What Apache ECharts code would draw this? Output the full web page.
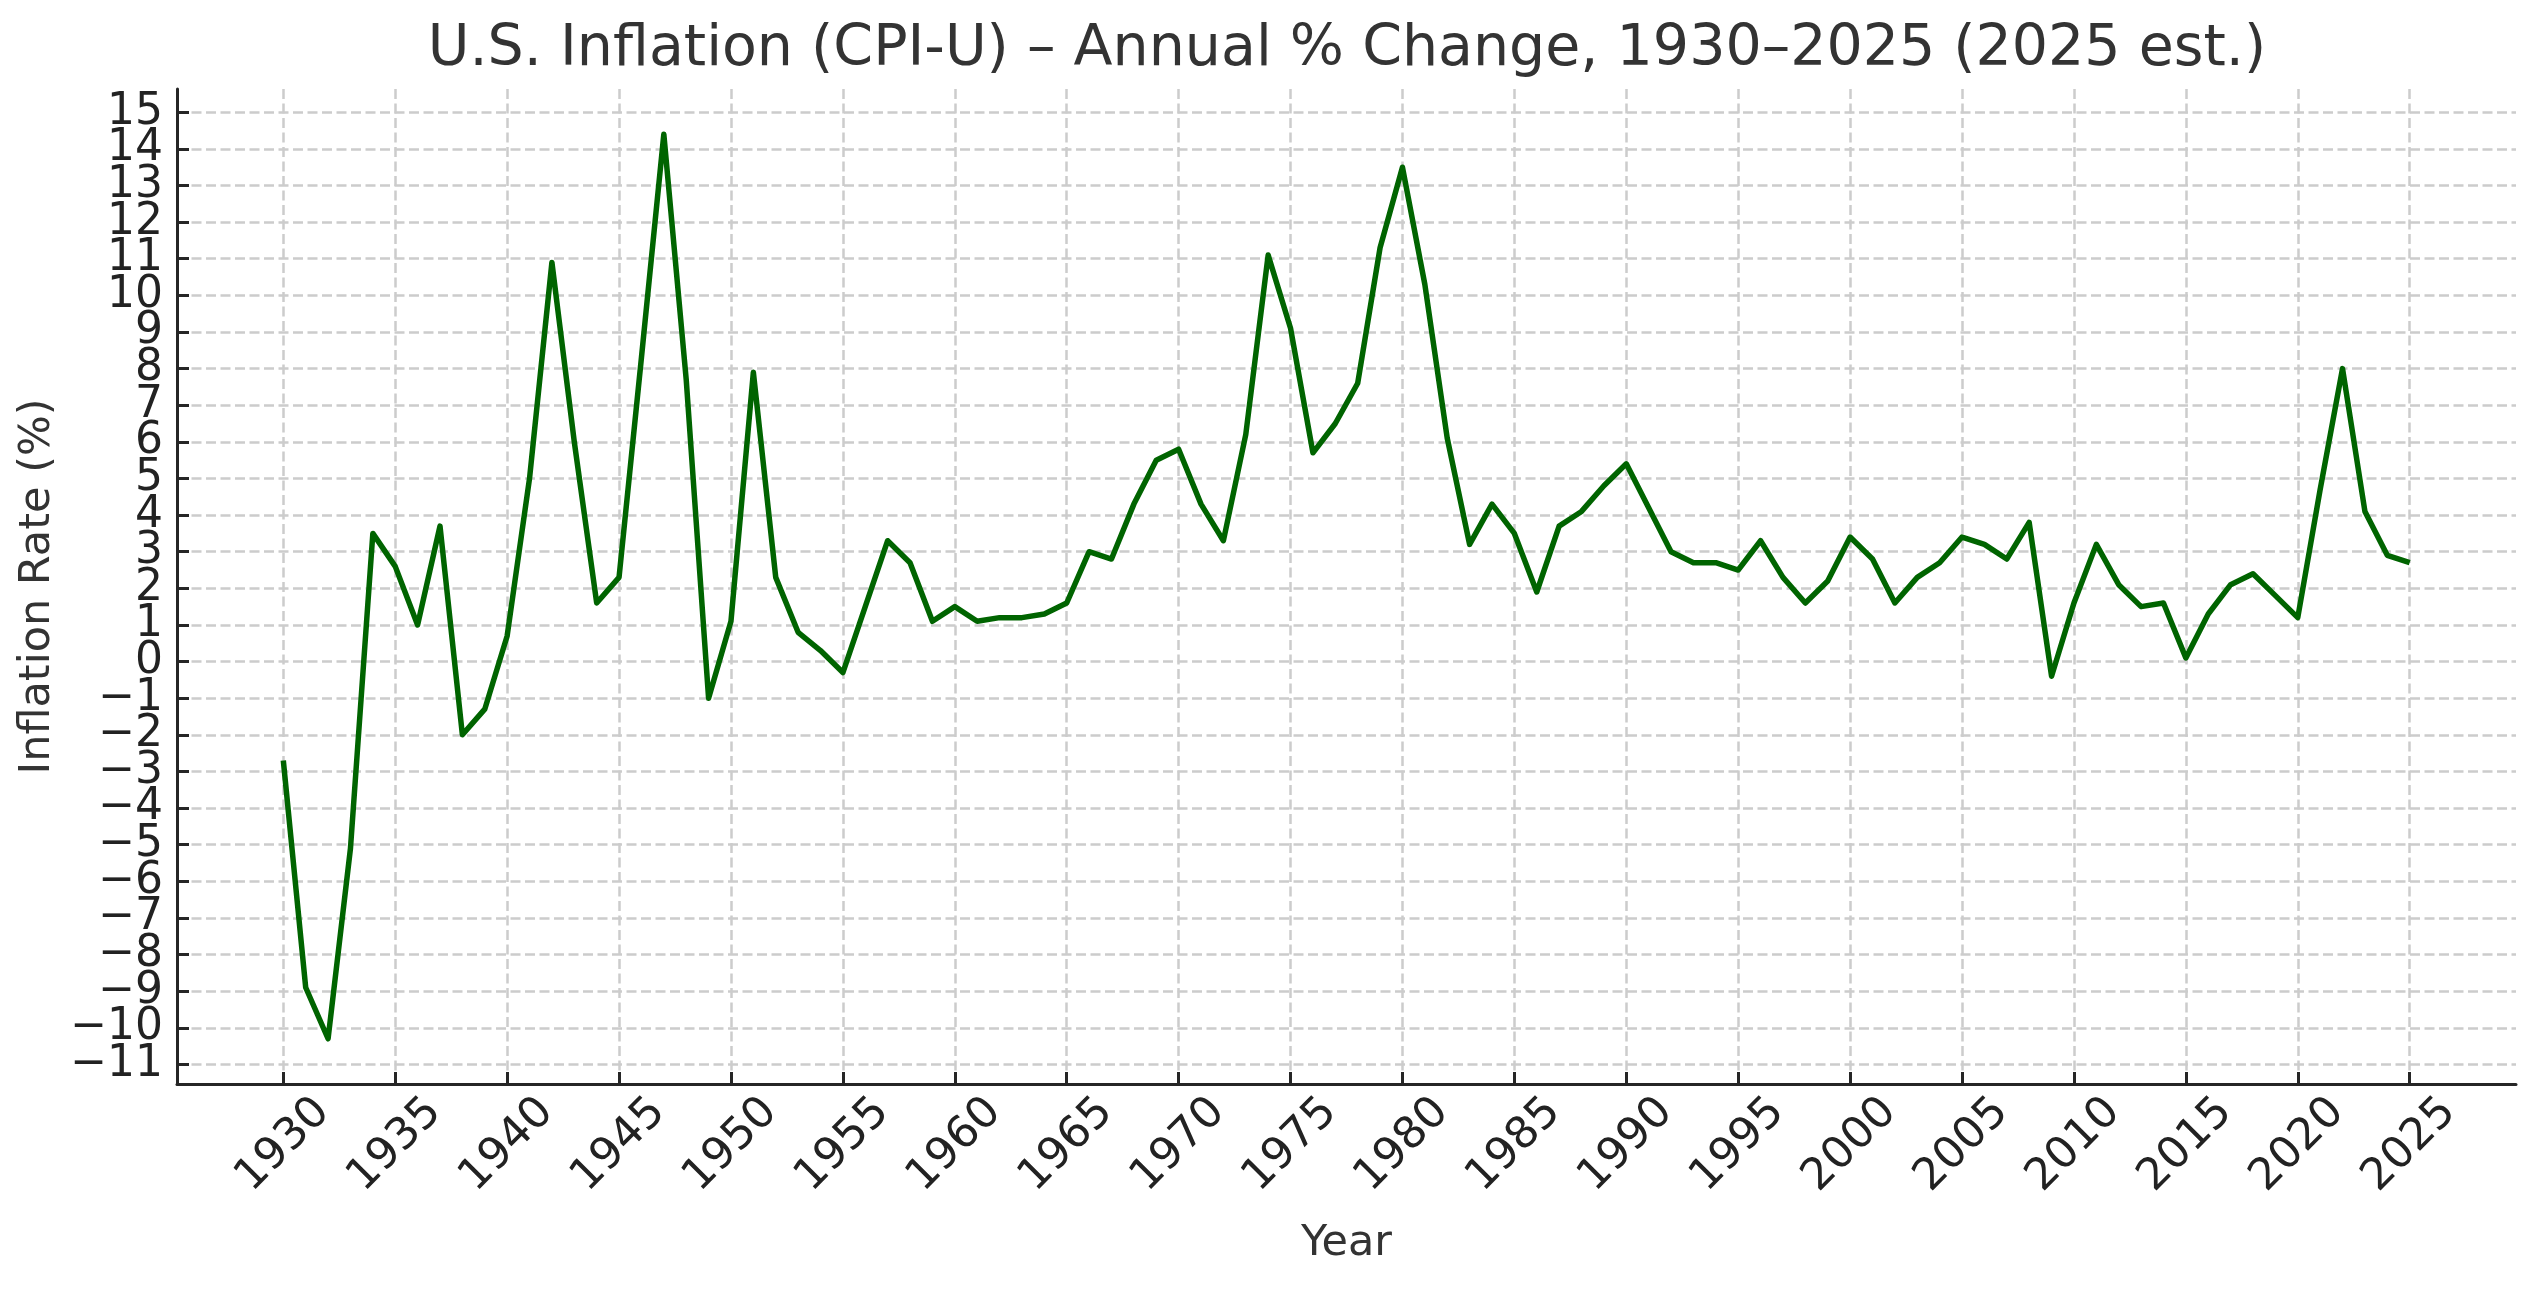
<!DOCTYPE html>
<html>
<head>
<meta charset="utf-8">
<title>U.S. Inflation (CPI-U)</title>
<script src="https://cdn.jsdelivr.net/npm/echarts@6/dist/echarts.min.js"></script>
<style>
  html, body { margin: 0; padding: 0; background: #fff; }
  #chart { width: 2538px; height: 1290px; }
</style>
</head>
<body>
<div id="chart"></div>
<script>
// years and annual CPI-U % change
const years = [];
for (let y = 1930; y <= 2025; y++) years.push(y);

const inflation = [
  -2.7, -8.9, -10.3, -5.1, 3.5, 2.6, 1.0, 3.7, -2.0, -1.3,   // 1930s
  0.7, 5.0, 10.9, 6.0, 1.6, 2.3, 8.3, 14.4, 7.7, -1.0,       // 1940s
  1.1, 7.9, 2.3, 0.8, 0.3, -0.3, 1.5, 3.3, 2.7, 1.1,         // 1950s
  1.5, 1.1, 1.2, 1.2, 1.3, 1.6, 3.0, 2.8, 4.3, 5.5,          // 1960s
  5.8, 4.3, 3.3, 6.2, 11.1, 9.1, 5.7, 6.5, 7.6, 11.3,        // 1970s
  13.5, 10.3, 6.1, 3.2, 4.3, 3.5, 1.9, 3.7, 4.1, 4.8,        // 1980s
  5.4, 4.2, 3.0, 2.7, 2.7, 2.5, 3.3, 2.3, 1.6, 2.2,          // 1990s
  3.4, 2.8, 1.6, 2.3, 2.7, 3.4, 3.2, 2.8, 3.8, -0.4,         // 2000s
  1.6, 3.2, 2.1, 1.5, 1.6, 0.1, 1.3, 2.1, 2.4, 1.8,          // 2010s
  1.2, 4.7, 8.0, 4.1, 2.9, 2.7                               // 2020s
];

// tick positions
const xTicks = [1930, 1935, 1940, 1945, 1950, 1955, 1960, 1965, 1970, 1975,
  1980, 1985, 1990, 1995, 2000, 2005, 2010, 2015, 2020, 2025];
const yTicks = [];
for (let v = -11; v <= 15; v++) yTicks.push(v);

// labels are packed tight, so they are split over two overlaid axes
// (otherwise echarts drops the neighbours of the end labels)
const yLabelsOdd = yTicks.filter((v) => Math.abs(v) % 2 === 1);
const yLabelsEven = yTicks.filter((v) => Math.abs(v) % 2 === 0);

const seriesData = years.map((y, i) => [y, inflation[i]]);

const FONT = 'DejaVu Sans';
const gridLine = { color: '#cccccc', type: [10, 4.5], width: 2.5 };
const spine = { color: '#262626', width: 3 };
const Y_MIN = -11.535;
const Y_MAX = 15.635;

const yLabelStyle = (values) => ({
  customValues: values,
  showMinLabel: true,
  showMaxLabel: true,
  hideOverlap: false,
  margin: 14,
  fontFamily: FONT,
  fontSize: 44,
  color: '#222222',
  formatter: (v) => (v < 0 ? '\u2212' + Math.abs(v) : String(v))
});

const chart = echarts.init(document.getElementById('chart'));

const option = {
  animation: false,
  backgroundColor: '#ffffff',
  title: {
    text: 'U.S. Inflation (CPI-U) – Annual % Change, 1930–2025 (2025 est.)',
    left: 1347,
    top: 22,
    padding: 0,
    textAlign: 'center',
    textStyle: {
      fontFamily: FONT,
      fontSize: 57,
      fontWeight: 'normal',
      color: '#333333'
    }
  },
  grid: {
    left: 177,
    right: 22,
    top: 89,
    bottom: 206,
    containLabel: false
  },
  xAxis: {
    type: 'value',
    min: 1925.25,
    max: 2029.75,
    name: 'Year',
    nameLocation: 'middle',
    nameGap: 138,
    nameTextStyle: { fontFamily: FONT, fontSize: 43, color: '#333333' },
    axisLine: { show: true, onZero: false, lineStyle: spine },
    axisTick: { show: true, inside: true, length: 12, lineStyle: spine, customValues: xTicks },
    axisLabel: {
      customValues: xTicks,
      rotate: 45,
      align: 'center',
      verticalAlign: 'middle',
      margin: 61,
      fontFamily: FONT,
      fontSize: 44,
      color: '#222222',
      hideOverlap: false,
      formatter: (v) => String(v)
    },
    splitLine: { show: true, lineStyle: gridLine }
  },
  yAxis: [
    {
      type: 'value',
      position: 'left',
      min: Y_MIN,
      max: Y_MAX,
      name: 'Inflation Rate (%)',
      nameLocation: 'middle',
      nameGap: 117,
      nameTextStyle: { fontFamily: FONT, fontSize: 43, color: '#333333' },
      axisLine: { show: true, onZero: false, lineStyle: spine },
      axisTick: { show: true, inside: true, length: 12, lineStyle: spine, customValues: yTicks },
      axisLabel: yLabelStyle(yLabelsOdd),
      splitLine: { show: true, lineStyle: gridLine }
    },
    {
      type: 'value',
      position: 'left',
      offset: 0,
      min: Y_MIN,
      max: Y_MAX,
      axisLine: { show: false, onZero: false },
      axisTick: { show: false },
      axisLabel: yLabelStyle(yLabelsEven),
      splitLine: { show: false }
    }
  ],
  series: [
    {
      name: 'Inflation',
      type: 'line',
      yAxisIndex: 0,
      data: seriesData,
      showSymbol: false,
      symbol: 'none',
      lineStyle: { color: '#006400', width: 5.5, join: 'round', cap: 'butt' },
      z: 5
    }
  ]
};

chart.setOption(option);
</script>
</body>
</html>
